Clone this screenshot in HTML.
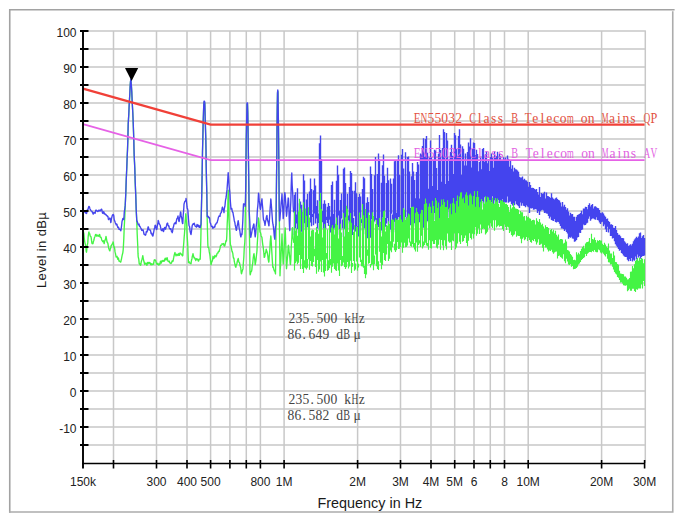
<!DOCTYPE html>
<html><head><meta charset="utf-8"><title>EMI scan</title><style>
html,body{margin:0;padding:0;background:#fff}
#w{position:relative;width:690px;height:525px;overflow:hidden;background:#fff;font-family:"Liberation Sans",sans-serif;color:#222}
.yl{position:absolute;right:613.5px;font-size:12px;line-height:12px;text-align:right;white-space:nowrap}
.xl{position:absolute;top:475.5px;font-size:12px;line-height:12px;width:60px;margin-left:-30px;text-align:center;white-space:nowrap}
.t{position:absolute;font-size:14.4px;line-height:16px;white-space:nowrap;color:#1a1a1a}
.m{position:absolute;font-family:"Liberation Serif",serif;font-size:13.6px;line-height:16px;height:16px;white-space:pre}
.c{display:inline-block;width:6.97px;text-align:center;vertical-align:top}
.c i{font-style:normal;display:inline-block;transform-origin:50% 50%;margin:0 -4px}

</style></head><body><div id="w">
<svg width="690" height="525" viewBox="0 0 690 525" style="position:absolute;left:0;top:0">
<path d="M9.75,512.7 V9.75 H674.6" fill="none" stroke="#a2a2a2" stroke-width="1.6"/>
<path d="M9,511.95 H672.75 V11.3" fill="none" stroke="#acacac" stroke-width="1.6"/>
<path d="M113.5,31 V463 M156.5,31 V463 M187.0,31 V463 M210.6,31 V463 M229.9,31 V463 M246.3,31 V463 M260.4,31 V463 M284.1,31 V463 M357.6,31 V463 M400.5,31 V463 M431.0,31 V463 M454.7,31 V463 M474.0,31 V463 M490.3,31 V463 M504.5,31 V463 M528.2,31 V463 M601.6,31 V463 M645.3,31 V463 M83,445.0 H645.9 M83,427.0 H645.9 M83,409.0 H645.9 M83,391.0 H645.9 M83,373.0 H645.9 M83,355.0 H645.9 M83,337.0 H645.9 M83,319.0 H645.9 M83,301.0 H645.9 M83,283.0 H645.9 M83,265.0 H645.9 M83,247.0 H645.9 M83,229.0 H645.9 M83,211.0 H645.9 M83,193.0 H645.9 M83,175.0 H645.9 M83,157.0 H645.9 M83,139.0 H645.9 M83,121.0 H645.9 M83,103.0 H645.9 M83,85.0 H645.9 M83,67.0 H645.9 M83,49.0 H645.9 M83,31.0 H645.9" stroke="#c8c8c8" stroke-width="1.5" fill="none"/>
<path d="M83.0,228.2 L83.2,230.3 L83.5,232.1 L83.8,233.3 L84.0,235.2 L84.2,237.8 L84.5,240.1 L84.8,242.1 L85.0,243.1 L85.2,243.7 L85.5,245.2 L85.8,247.0 L86.0,248.9 L86.2,251.3 L86.5,252.2 L86.8,250.0 L87.0,247.1 L87.2,245.2 L87.5,244.3 L87.8,242.4 L88.0,239.3 L88.2,236.3 L88.5,234.0 L88.8,232.2 L89.0,232.0 L89.2,233.4 L89.5,233.7 L89.8,233.9 L90.0,235.1 L90.2,236.1 L90.5,236.2 L90.8,236.5 L91.0,236.9 L91.2,237.9 L91.5,240.1 L91.8,242.4 L92.0,243.5 L92.2,243.2 L92.5,243.0 L92.8,243.7 L93.0,243.6 L93.2,242.2 L93.5,241.2 L93.8,240.5 L94.0,239.8 L94.2,238.6 L94.5,237.4 L94.8,236.9 L95.0,236.5 L95.2,235.6 L95.5,234.7 L95.8,234.3 L96.0,234.3 L96.2,234.8 L96.5,235.7 L96.8,236.2 L97.0,236.0 L97.2,235.9 L97.5,235.5 L97.8,235.0 L98.0,235.5 L98.2,236.0 L98.5,236.1 L98.8,236.3 L99.0,236.2 L99.2,235.3 L99.5,234.5 L99.8,234.7 L100.0,236.2 L100.2,237.2 L100.5,237.0 L100.8,237.0 L101.0,237.4 L101.2,237.8 L101.5,238.9 L101.8,240.0 L102.0,240.5 L102.2,240.7 L102.5,241.2 L102.8,241.7 L103.0,241.5 L103.2,241.0 L103.5,240.8 L103.8,241.5 L104.0,243.2 L104.2,243.6 L104.5,241.8 L104.8,240.8 L105.0,240.6 L105.2,240.1 L105.5,238.9 L105.8,237.6 L106.0,236.4 L106.2,237.3 L106.5,238.9 L106.8,240.5 L107.0,241.8 L107.2,242.4 L107.5,242.7 L107.8,243.2 L108.0,244.2 L108.2,245.3 L108.5,247.1 L108.8,248.6 L109.0,248.9 L109.2,249.8 L109.5,250.4 L109.8,250.9 L110.0,250.5 L110.2,249.1 L110.5,248.2 L110.8,247.9 L111.0,246.5 L111.2,245.5 L111.5,245.6 L111.8,244.9 L112.0,244.2 L112.2,244.0 L112.5,243.8 L112.8,243.3 L113.0,242.0 L113.2,242.1 L113.5,244.2 L113.8,246.5 L114.0,247.4 L114.2,246.8 L114.5,247.5 L114.8,249.7 L115.0,251.4 L115.2,252.4 L115.5,253.7 L115.8,255.4 L116.0,256.3 L116.2,257.0 L116.5,256.8 L116.8,256.4 L117.0,256.2 L117.2,256.9 L117.5,258.2 L117.8,259.2 L118.0,258.9 L118.2,258.0 L118.5,258.4 L118.8,260.1 L119.0,261.0 L119.2,260.8 L119.5,261.0 L119.8,261.5 L120.0,261.6 L120.2,261.6 L120.5,262.0 L120.8,262.1 L121.0,261.0 L121.2,260.0 L121.5,258.8 L121.8,257.2 L122.0,256.1 L122.2,255.1 L122.5,254.0 L122.8,252.8 L123.0,251.3 L123.2,249.7 L123.5,244.6 L123.8,239.0 L124.0,233.4 L124.2,227.8 L124.5,222.4 L124.8,216.9 L125.0,211.5 L125.2,206.1 L125.5,199.8 L125.8,193.5 L126.0,187.1 L126.2,180.7 L126.5,174.2 L126.8,167.8 L127.0,162.1 L127.2,156.3 L127.5,150.3 L127.8,141.6 L128.0,133.0 L128.2,124.3 L128.5,119.3 L128.8,114.4 L129.0,109.5 L129.2,104.6 L129.5,99.6 L129.8,94.6 L130.0,89.9 L130.2,85.3 L130.5,81.9 L130.8,79.3 L131.0,80.2 L131.2,83.6 L131.5,87.6 L131.8,92.4 L132.0,97.4 L132.2,102.5 L132.5,107.6 L132.8,112.7 L133.0,117.8 L133.2,122.9 L133.5,131.1 L133.8,140.2 L134.0,149.4 L134.2,156.1 L134.5,162.3 L134.8,168.5 L135.0,175.5 L135.2,182.4 L135.5,189.4 L135.8,196.4 L136.0,203.5 L136.2,209.8 L136.5,215.8 L136.8,221.9 L137.0,228.0 L137.2,234.3 L137.5,240.7 L137.8,247.0 L138.0,253.4 L138.2,256.8 L138.5,258.0 L138.8,259.3 L139.0,261.4 L139.2,263.7 L139.5,264.0 L139.8,263.7 L140.0,264.2 L140.2,264.9 L140.5,265.2 L140.8,265.0 L141.0,263.3 L141.2,262.2 L141.5,261.0 L141.8,259.9 L142.0,259.3 L142.2,258.6 L142.5,257.0 L142.8,255.6 L143.0,256.9 L143.2,258.3 L143.5,259.7 L143.8,261.0 L144.0,261.8 L144.2,262.5 L144.5,263.8 L144.8,264.5 L145.0,263.6 L145.2,263.1 L145.5,263.6 L145.8,263.7 L146.0,263.1 L146.2,263.5 L146.5,264.6 L146.8,265.2 L147.0,265.3 L147.2,264.4 L147.5,262.6 L147.8,262.5 L148.0,263.5 L148.2,263.5 L148.5,263.1 L148.8,262.7 L149.0,262.3 L149.2,262.5 L149.5,263.2 L149.8,263.4 L150.0,262.8 L150.2,262.9 L150.5,264.2 L150.8,264.8 L151.0,264.8 L151.2,264.8 L151.5,264.3 L151.8,263.6 L152.0,263.6 L152.2,264.2 L152.5,264.6 L152.8,264.6 L153.0,264.5 L153.2,264.3 L153.5,264.1 L153.8,263.0 L154.0,261.3 L154.2,260.0 L154.5,260.0 L154.8,260.2 L155.0,259.8 L155.2,260.1 L155.5,260.4 L155.8,261.0 L156.0,262.0 L156.2,263.0 L156.5,263.4 L156.8,263.9 L157.0,264.3 L157.2,264.0 L157.5,263.6 L157.8,263.3 L158.0,263.6 L158.2,264.5 L158.5,264.7 L158.8,265.0 L159.0,264.9 L159.2,264.2 L159.5,264.3 L159.8,264.5 L160.0,263.5 L160.2,262.1 L160.5,261.2 L160.8,261.3 L161.0,262.4 L161.2,263.1 L161.5,262.5 L161.8,261.4 L162.0,260.7 L162.2,260.5 L162.5,260.8 L162.8,261.1 L163.0,261.4 L163.2,261.1 L163.5,260.4 L163.8,260.4 L164.0,261.2 L164.2,261.2 L164.5,260.4 L164.8,259.6 L165.0,258.7 L165.2,258.1 L165.5,258.9 L165.8,259.9 L166.0,260.0 L166.2,259.8 L166.5,259.2 L166.8,258.2 L167.0,257.6 L167.2,257.9 L167.5,259.3 L167.8,260.5 L168.0,261.0 L168.2,261.5 L168.5,261.5 L168.8,261.4 L169.0,261.1 L169.2,261.0 L169.5,262.1 L169.8,262.9 L170.0,262.7 L170.2,262.7 L170.5,263.3 L170.8,263.5 L171.0,263.3 L171.2,263.2 L171.5,263.1 L171.8,262.1 L172.0,261.2 L172.2,260.9 L172.5,260.8 L172.8,261.0 L173.0,261.3 L173.2,260.3 L173.5,258.6 L173.8,257.2 L174.0,256.1 L174.2,255.2 L174.5,254.1 L174.8,252.8 L175.0,252.5 L175.2,253.8 L175.5,254.4 L175.8,255.0 L176.0,255.8 L176.2,255.5 L176.5,254.6 L176.8,254.3 L177.0,254.2 L177.2,254.2 L177.5,254.9 L177.8,255.6 L178.0,255.5 L178.2,255.0 L178.5,254.1 L178.8,253.5 L179.0,253.9 L179.2,254.9 L179.5,255.2 L179.8,253.9 L180.0,253.0 L180.2,253.0 L180.5,253.2 L180.8,253.5 L181.0,253.7 L181.2,254.1 L181.5,254.8 L181.8,254.9 L182.0,254.6 L182.2,255.1 L182.5,255.9 L182.8,255.4 L183.0,252.0 L183.2,249.1 L183.5,246.2 L183.8,242.5 L184.0,239.7 L184.2,236.8 L184.5,233.5 L184.8,229.1 L185.0,224.4 L185.2,220.7 L185.5,217.8 L185.8,213.8 L186.0,215.8 L186.2,219.1 L186.5,222.0 L186.8,226.4 L187.0,231.9 L187.2,236.9 L187.5,240.8 L187.8,246.3 L188.0,252.2 L188.2,257.8 L188.5,262.7 L188.8,262.0 L189.0,261.6 L189.2,261.9 L189.5,262.6 L189.8,263.0 L190.0,263.2 L190.2,263.2 L190.5,263.3 L190.8,263.5 L191.0,263.8 L191.2,262.1 L191.5,260.3 L191.8,259.2 L192.0,258.4 L192.2,257.0 L192.5,255.6 L192.8,254.6 L193.0,253.6 L193.2,254.6 L193.5,255.8 L193.8,257.0 L194.0,257.8 L194.2,257.8 L194.5,257.7 L194.8,258.1 L195.0,259.0 L195.2,258.6 L195.5,259.3 L195.8,260.5 L196.0,260.0 L196.2,258.9 L196.5,258.8 L196.8,258.7 L197.0,258.9 L197.2,259.5 L197.5,259.4 L197.8,259.2 L198.0,259.7 L198.2,260.9 L198.5,261.1 L198.8,260.6 L199.0,259.9 L199.2,259.3 L199.5,259.1 L199.8,259.1 L200.0,259.1 L200.2,259.2 L200.5,251.3 L200.8,240.7 L201.0,230.2 L201.2,218.1 L201.5,205.7 L201.8,193.3 L202.0,182.0 L202.2,169.3 L202.5,152.7 L202.8,140.9 L203.0,131.5 L203.2,122.1 L203.5,112.8 L203.8,105.2 L204.0,102.3 L204.2,102.3 L204.5,102.3 L204.8,103.5 L205.0,110.6 L205.2,119.9 L205.5,129.6 L205.8,139.2 L206.0,150.2 L206.2,167.4 L206.5,181.2 L206.8,193.0 L207.0,206.0 L207.2,219.1 L207.5,231.6 L207.8,242.9 L208.0,247.4 L208.2,247.1 L208.5,247.3 L208.8,247.9 L209.0,249.5 L209.2,251.4 L209.5,253.1 L209.8,254.4 L210.0,255.8 L210.2,257.8 L210.5,260.1 L210.8,262.8 L211.0,264.8 L211.2,264.2 L211.5,262.8 L211.8,261.9 L212.0,261.5 L212.2,261.1 L212.5,260.1 L212.8,257.8 L213.0,256.3 L213.2,257.0 L213.5,258.4 L213.8,258.5 L214.0,258.1 L214.2,257.9 L214.5,257.1 L214.8,255.8 L215.0,255.4 L215.2,256.1 L215.5,256.4 L215.8,256.9 L216.0,256.8 L216.2,256.0 L216.5,255.7 L216.8,254.8 L217.0,253.7 L217.2,253.3 L217.5,253.1 L217.8,252.8 L218.0,253.0 L218.2,252.4 L218.5,251.3 L218.8,251.2 L219.0,251.6 L219.2,251.4 L219.5,250.2 L219.8,248.9 L220.0,248.4 L220.2,247.1 L220.5,245.6 L220.8,245.2 L221.0,245.4 L221.2,245.3 L221.5,245.2 L221.8,244.4 L222.0,243.7 L222.2,244.0 L222.5,244.1 L222.8,244.2 L223.0,244.1 L223.2,243.7 L223.5,243.5 L223.8,244.5 L224.0,245.6 L224.2,245.9 L224.5,246.1 L224.8,245.8 L225.0,245.1 L225.2,244.0 L225.5,242.8 L225.8,241.5 L226.0,240.7 L226.2,240.6 L226.5,241.0 L226.8,236.0 L227.0,230.1 L227.2,223.7 L227.5,218.3 L227.8,208.2 L228.0,197.3 L228.2,190.1 L228.5,198.8 L228.8,208.7 L229.0,218.6 L229.2,223.3 L229.5,228.0 L229.8,232.6 L230.0,237.0 L230.2,241.8 L230.5,245.0 L230.8,245.5 L231.0,246.2 L231.2,247.3 L231.5,248.7 L231.8,250.3 L232.0,251.3 L232.2,251.9 L232.5,252.4 L232.8,253.4 L233.0,255.0 L233.2,256.8 L233.5,258.0 L233.8,258.0 L234.0,258.8 L234.2,260.8 L234.5,262.4 L234.8,263.7 L235.0,264.9 L235.2,265.6 L235.5,266.7 L235.8,267.3 L236.0,266.5 L236.2,265.3 L236.5,264.3 L236.8,264.1 L237.0,263.2 L237.2,261.8 L237.5,260.8 L237.8,260.1 L238.0,259.1 L238.2,258.5 L238.5,260.0 L238.8,261.7 L239.0,262.3 L239.2,262.2 L239.5,262.6 L239.8,264.1 L240.0,265.6 L240.2,266.1 L240.5,267.0 L240.8,268.2 L241.0,270.4 L241.2,272.6 L241.5,273.7 L241.8,272.7 L242.0,271.9 L242.2,271.2 L242.5,270.3 L242.8,269.6 L243.0,268.9 L243.2,265.0 L243.5,261.3 L243.8,257.8 L244.0,253.6 L244.2,249.1 L244.5,245.5 L244.8,242.3 L245.0,237.3 L245.2,219.8 L245.5,201.0 L245.8,183.4 L246.0,162.1 L246.2,142.2 L246.5,128.1 L246.8,114.0 L247.0,104.1 L247.2,104.1 L247.5,104.1 L247.8,113.0 L248.0,127.2 L248.2,141.5 L248.5,161.4 L248.8,183.4 L249.0,201.6 L249.2,221.1 L249.5,239.0 L249.8,255.9 L250.0,273.4 L250.2,274.8 L250.5,273.7 L250.8,272.4 L251.0,271.4 L251.2,271.5 L251.5,271.4 L251.8,270.2 L252.0,268.0 L252.2,265.9 L252.5,264.6 L252.8,262.6 L253.0,260.3 L253.2,258.2 L253.5,256.1 L253.8,254.1 L254.0,253.7 L254.2,255.6 L254.5,257.6 L254.8,260.0 L255.0,262.8 L255.2,264.7 L255.5,263.0 L255.8,261.3 L256.0,260.0 L256.2,257.9 L256.5,255.0 L256.8,252.5 L257.0,250.4 L257.2,245.1 L257.5,240.3 L257.8,235.6 L258.0,229.7 L258.2,223.6 L258.5,218.0 L258.8,220.2 L259.0,222.4 L259.2,224.3 L259.5,226.6 L259.8,229.5 L260.0,232.0 L260.2,232.2 L260.5,232.6 L260.8,233.8 L261.0,235.2 L261.2,236.2 L261.5,236.5 L261.8,237.0 L262.0,238.0 L262.2,239.9 L262.5,242.5 L262.8,244.8 L263.0,245.8 L263.2,247.2 L263.5,249.8 L263.8,252.4 L264.0,255.0 L264.2,257.4 L264.5,257.4 L264.8,256.5 L265.0,254.9 L265.2,253.5 L265.5,253.1 L265.8,252.1 L266.0,250.5 L266.2,249.2 L266.5,250.1 L266.8,251.2 L267.0,251.5 L267.2,252.5 L267.5,254.0 L267.8,255.8 L268.0,257.8 L268.2,259.4 L268.5,261.0 L268.8,262.2 L269.0,260.8 L269.2,256.9 L269.5,253.7 L269.8,250.4 L270.0,246.2 L270.2,242.0 L270.5,239.0 L270.8,235.9 L271.0,237.5 L271.2,241.5 L271.5,246.8 L271.8,251.4 L272.0,254.9 L272.2,258.5 L272.5,263.1 L272.8,267.2 L273.0,267.0 L273.2,266.8 L273.5,268.2 L273.8,269.2 L274.0,269.9 L274.2,270.6 L274.5,271.1 L274.8,271.1 L275.0,271.2 L275.2,272.6 L275.5,273.9 L275.8,251.6 L276.0,229.7 L276.2,206.8 L276.5,181.6 L276.8,157.1 L277.0,129.0 L277.2,110.0 L277.5,93.4 L277.8,91.1 L278.0,93.0 L278.2,109.6 L278.5,128.8 L278.8,157.4 L279.0,182.4 L279.2,208.2 L279.5,231.6 L279.8,254.4 L280.0,275.8 L280.2,270.2 L280.5,265.9 L280.8,261.6 L281.0,256.4 L281.2,251.2 L281.5,245.8 L281.8,239.9 L282.0,233.9 L282.2,240.6 L282.5,248.3 L282.8,255.3 L283.0,260.8 L283.2,264.0 L283.5,259.7 L283.8,256.2 L284.0,251.7 L284.2,246.6 L284.5,241.4 L284.8,236.3 L285.0,231.1 L285.2,228.0 L285.5,235.8 L285.8,245.1 L286.0,253.7 L286.2,261.1 L286.5,268.7 L286.8,265.6 L287.0,263.2 L287.2,260.4 L287.5,257.1 L287.8,253.5 L288.0,249.5 L288.2,245.8 L288.5,245.3 L288.8,247.9 L289.0,250.1 L289.2,252.7 L289.5,255.3 L289.8,257.6 L290.0,260.4 L290.2,263.9 L290.5,264.5 L290.8,259.8 L291.0,253.8 L291.2,248.0 L291.5,243.5 L291.8,239.3 L292.0,234.0 L292.2,228.6 L292.5,227.6 L292.8,232.1 L293.0,235.7 L293.2,238.3 L293.5,240.0 L293.8,242.9" stroke="#44f444" stroke-width="1.35" fill="none" stroke-linejoin="round" />
<path d="M83.0,208.2 L83.2,209.4 L83.5,211.1 L83.8,212.0 L84.0,211.6 L84.2,211.2 L84.5,211.1 L84.8,211.0 L85.0,211.5 L85.2,212.5 L85.5,213.0 L85.8,212.6 L86.0,212.1 L86.2,212.7 L86.5,213.6 L86.8,212.9 L87.0,211.0 L87.2,209.9 L87.5,210.1 L87.8,210.0 L88.0,209.2 L88.2,208.5 L88.5,207.5 L88.8,206.5 L89.0,206.4 L89.2,206.4 L89.5,207.1 L89.8,208.1 L90.0,208.9 L90.2,209.4 L90.5,209.8 L90.8,210.2 L91.0,210.6 L91.2,210.9 L91.5,211.1 L91.8,211.2 L92.0,211.2 L92.2,211.8 L92.5,212.7 L92.8,213.1 L93.0,213.7 L93.2,214.1 L93.5,213.6 L93.8,212.6 L94.0,212.4 L94.2,212.7 L94.5,212.6 L94.8,212.8 L95.0,213.4 L95.2,212.9 L95.5,211.4 L95.8,210.3 L96.0,210.0 L96.2,210.2 L96.5,210.5 L96.8,210.5 L97.0,210.6 L97.2,211.3 L97.5,211.4 L97.8,211.5 L98.0,211.5 L98.2,211.1 L98.5,211.0 L98.8,210.4 L99.0,210.0 L99.2,210.7 L99.5,210.8 L99.8,210.5 L100.0,211.1 L100.2,211.1 L100.5,210.4 L100.8,210.0 L101.0,209.8 L101.2,209.5 L101.5,209.1 L101.8,209.5 L102.0,210.6 L102.2,211.9 L102.5,213.0 L102.8,213.3 L103.0,213.0 L103.2,212.8 L103.5,211.8 L103.8,211.7 L104.0,213.0 L104.2,213.9 L104.5,213.7 L104.8,213.5 L105.0,214.0 L105.2,214.5 L105.5,214.5 L105.8,214.3 L106.0,214.3 L106.2,215.1 L106.5,215.4 L106.8,215.4 L107.0,215.8 L107.2,216.4 L107.5,216.3 L107.8,216.2 L108.0,216.8 L108.2,218.2 L108.5,219.5 L108.8,219.4 L109.0,218.8 L109.2,218.9 L109.5,218.7 L109.8,218.0 L110.0,218.1 L110.2,219.2 L110.5,220.6 L110.8,222.6 L111.0,222.1 L111.2,220.1 L111.5,218.5 L111.8,217.4 L112.0,216.6 L112.2,215.8 L112.5,215.1 L112.8,214.9 L113.0,214.6 L113.2,214.5 L113.5,214.8 L113.8,215.9 L114.0,218.0 L114.2,219.6 L114.5,220.7 L114.8,221.2 L115.0,221.7 L115.2,222.5 L115.5,223.4 L115.8,223.7 L116.0,224.1 L116.2,224.8 L116.5,224.7 L116.8,224.0 L117.0,224.4 L117.2,225.6 L117.5,226.6 L117.8,227.4 L118.0,227.6 L118.2,227.1 L118.5,227.2 L118.8,228.2 L119.0,229.3 L119.2,229.4 L119.5,229.0 L119.8,229.2 L120.0,229.7 L120.2,229.7 L120.5,230.0 L120.8,230.8 L121.0,229.8 L121.2,228.5 L121.5,226.4 L121.8,223.7 L122.0,221.7 L122.2,220.8 L122.5,220.1 L122.8,218.7 L123.0,218.4 L123.2,218.7 L123.5,219.2 L123.8,219.5 L124.0,216.7 L124.2,213.2 L124.5,210.6 L124.8,208.8 L125.0,207.2 L125.2,205.4 L125.5,199.6 L125.8,193.2 L126.0,186.8 L126.2,180.4 L126.5,174.0 L126.8,167.5 L127.0,161.8 L127.2,156.1 L127.5,150.0 L127.8,141.4 L128.0,132.7 L128.2,124.1 L128.5,119.0 L128.8,114.2 L129.0,109.3 L129.2,104.4 L129.5,99.4 L129.8,94.3 L130.0,89.6 L130.2,85.0 L130.5,81.6 L130.8,79.1 L131.0,79.9 L131.2,83.4 L131.5,87.3 L131.8,92.1 L132.0,97.1 L132.2,102.3 L132.5,107.4 L132.8,112.5 L133.0,117.5 L133.2,122.6 L133.5,130.9 L133.8,140.0 L134.0,149.1 L134.2,155.9 L134.5,162.0 L134.8,168.3 L135.0,175.2 L135.2,182.2 L135.5,189.2 L135.8,196.2 L136.0,203.2 L136.2,209.5 L136.5,215.6 L136.8,221.1 L137.0,220.9 L137.2,221.3 L137.5,222.3 L137.8,223.4 L138.0,224.0 L138.2,224.7 L138.5,224.7 L138.8,224.1 L139.0,223.9 L139.2,224.8 L139.5,226.3 L139.8,226.4 L140.0,226.2 L140.2,226.8 L140.5,227.6 L140.8,228.2 L141.0,228.2 L141.2,228.7 L141.5,229.8 L141.8,230.4 L142.0,230.5 L142.2,230.4 L142.5,230.0 L142.8,229.9 L143.0,229.8 L143.2,230.4 L143.5,231.6 L143.8,233.0 L144.0,234.0 L144.2,234.5 L144.5,234.5 L144.8,234.5 L145.0,234.9 L145.2,235.0 L145.5,235.2 L145.8,234.7 L146.0,233.5 L146.2,231.9 L146.5,231.4 L146.8,232.0 L147.0,232.0 L147.2,231.3 L147.5,230.0 L147.8,228.4 L148.0,227.4 L148.2,226.8 L148.5,227.5 L148.8,228.9 L149.0,229.8 L149.2,229.8 L149.5,229.8 L149.8,230.1 L150.0,230.1 L150.2,230.0 L150.5,230.5 L150.8,231.8 L151.0,233.3 L151.2,233.7 L151.5,233.0 L151.8,233.3 L152.0,234.4 L152.2,235.2 L152.5,235.7 L152.8,236.1 L153.0,236.0 L153.2,234.7 L153.5,233.2 L153.8,231.6 L154.0,230.4 L154.2,229.2 L154.5,228.2 L154.8,227.2 L155.0,225.7 L155.2,225.1 L155.5,225.8 L155.8,226.7 L156.0,227.8 L156.2,228.5 L156.5,229.5 L156.8,229.4 L157.0,228.4 L157.2,226.2 L157.5,225.1 L157.8,224.0 L158.0,222.2 L158.2,220.5 L158.5,221.0 L158.8,222.3 L159.0,223.3 L159.2,223.6 L159.5,224.2 L159.8,224.6 L160.0,224.6 L160.2,225.3 L160.5,226.8 L160.8,228.2 L161.0,229.3 L161.2,230.2 L161.5,230.5 L161.8,230.6 L162.0,230.5 L162.2,230.0 L162.5,229.3 L162.8,228.7 L163.0,229.5 L163.2,231.2 L163.5,231.5 L163.8,230.7 L164.0,229.6 L164.2,228.5 L164.5,227.8 L164.8,227.4 L165.0,227.4 L165.2,228.3 L165.5,229.2 L165.8,228.7 L166.0,227.7 L166.2,226.8 L166.5,225.7 L166.8,224.4 L167.0,223.7 L167.2,223.4 L167.5,223.1 L167.8,223.7 L168.0,224.9 L168.2,225.7 L168.5,226.1 L168.8,225.8 L169.0,226.2 L169.2,227.7 L169.5,228.5 L169.8,228.4 L170.0,228.9 L170.2,229.2 L170.5,228.8 L170.8,228.6 L171.0,229.0 L171.2,230.2 L171.5,231.5 L171.8,231.6 L172.0,231.7 L172.2,232.7 L172.5,231.8 L172.8,229.7 L173.0,228.1 L173.2,227.6 L173.5,226.8 L173.8,225.2 L174.0,224.3 L174.2,223.8 L174.5,223.3 L174.8,223.5 L175.0,223.5 L175.2,222.8 L175.5,222.5 L175.8,223.5 L176.0,223.8 L176.2,222.2 L176.5,220.3 L176.8,219.0 L177.0,218.4 L177.2,218.5 L177.5,217.9 L177.8,216.6 L178.0,216.0 L178.2,217.3 L178.5,219.4 L178.8,220.9 L179.0,221.5 L179.2,221.3 L179.5,219.0 L179.8,217.5 L180.0,216.3 L180.2,214.4 L180.5,212.0 L180.8,212.4 L181.0,214.4 L181.2,215.9 L181.5,217.3 L181.8,218.4 L182.0,219.9 L182.2,221.9 L182.5,223.5 L182.8,223.5 L183.0,219.2 L183.2,215.4 L183.5,212.0 L183.8,208.3 L184.0,204.2 L184.2,203.5 L184.5,202.4 L184.8,201.5 L185.0,201.1 L185.2,201.1 L185.5,200.9 L185.8,199.9 L186.0,198.5 L186.2,199.5 L186.5,202.1 L186.8,204.5 L187.0,206.7 L187.2,208.3 L187.5,208.6 L187.8,209.8 L188.0,212.1 L188.2,215.1 L188.5,219.3 L188.8,222.9 L189.0,225.4 L189.2,225.8 L189.5,226.3 L189.8,228.2 L190.0,230.6 L190.2,232.0 L190.5,232.8 L190.8,234.0 L191.0,234.6 L191.2,233.3 L191.5,231.2 L191.8,229.0 L192.0,227.1 L192.2,225.7 L192.5,224.8 L192.8,224.9 L193.0,224.0 L193.2,223.7 L193.5,223.9 L193.8,224.2 L194.0,223.6 L194.2,223.2 L194.5,223.9 L194.8,225.2 L195.0,225.9 L195.2,226.2 L195.5,226.3 L195.8,226.1 L196.0,226.4 L196.2,227.0 L196.5,227.0 L196.8,225.6 L197.0,224.5 L197.2,224.6 L197.5,225.3 L197.8,226.2 L198.0,226.5 L198.2,226.0 L198.5,225.1 L198.8,225.5 L199.0,226.8 L199.2,227.4 L199.5,226.7 L199.8,226.0 L200.0,226.9 L200.2,227.5 L200.5,226.1 L200.8,224.9 L201.0,224.2 L201.2,217.0 L201.5,204.7 L201.8,192.2 L202.0,180.9 L202.2,168.2 L202.5,151.7 L202.8,139.8 L203.0,130.5 L203.2,121.0 L203.5,111.7 L203.8,104.1 L204.0,101.2 L204.2,101.2 L204.5,101.2 L204.8,102.4 L205.0,109.5 L205.2,118.8 L205.5,128.5 L205.8,138.1 L206.0,149.2 L206.2,166.3 L206.5,180.1 L206.8,191.9 L207.0,204.9 L207.2,216.6 L207.5,216.8 L207.8,216.4 L208.0,216.2 L208.2,216.5 L208.5,217.1 L208.8,217.9 L209.0,217.8 L209.2,217.4 L209.5,217.7 L209.8,219.7 L210.0,221.9 L210.2,223.0 L210.5,223.2 L210.8,224.2 L211.0,225.2 L211.2,225.9 L211.5,226.6 L211.8,226.2 L212.0,226.1 L212.2,226.3 L212.5,227.3 L212.8,228.3 L213.0,228.3 L213.2,227.9 L213.5,227.6 L213.8,227.6 L214.0,227.4 L214.2,226.5 L214.5,226.5 L214.8,227.1 L215.0,226.4 L215.2,224.9 L215.5,224.2 L215.8,224.3 L216.0,224.0 L216.2,223.4 L216.5,223.0 L216.8,222.9 L217.0,222.9 L217.2,222.4 L217.5,221.2 L217.8,220.0 L218.0,219.5 L218.2,218.3 L218.5,217.1 L218.8,216.5 L219.0,216.0 L219.2,215.9 L219.5,215.8 L219.8,216.3 L220.0,216.4 L220.2,214.7 L220.5,213.2 L220.8,213.0 L221.0,212.9 L221.2,212.7 L221.5,211.8 L221.8,210.3 L222.0,209.0 L222.2,207.7 L222.5,207.1 L222.8,208.4 L223.0,209.5 L223.2,209.3 L223.5,209.5 L223.8,211.2 L224.0,212.6 L224.2,210.0 L224.5,207.7 L224.8,206.8 L225.0,205.5 L225.2,203.1 L225.5,200.3 L225.8,198.6 L226.0,198.3 L226.2,196.7 L226.5,193.7 L226.8,191.5 L227.0,189.9 L227.2,187.1 L227.5,182.7 L227.8,178.8 L228.0,175.0 L228.2,172.6 L228.5,176.6 L228.8,180.7 L229.0,184.8 L229.2,187.1 L229.5,189.8 L229.8,192.0 L230.0,195.0 L230.2,199.0 L230.5,203.0 L230.8,206.6 L231.0,209.1 L231.2,208.2 L231.5,208.1 L231.8,208.6 L232.0,209.7 L232.2,211.1 L232.5,212.0 L232.8,212.4 L233.0,212.6 L233.2,214.1 L233.5,216.0 L233.8,217.3 L234.0,218.5 L234.2,220.2 L234.5,221.6 L234.8,222.3 L235.0,223.4 L235.2,224.9 L235.5,226.4 L235.8,227.6 L236.0,228.6 L236.2,230.2 L236.5,230.2 L236.8,228.5 L237.0,226.7 L237.2,225.7 L237.5,224.8 L237.8,223.1 L238.0,221.5 L238.2,220.7 L238.5,222.5 L238.8,224.8 L239.0,226.8 L239.2,228.4 L239.5,229.5 L239.8,230.5 L240.0,232.0 L240.2,233.8 L240.5,235.6 L240.8,236.9 L241.0,236.7 L241.2,234.5 L241.5,233.9 L241.8,234.7 L242.0,234.0 L242.2,231.6 L242.5,226.4 L242.8,221.0 L243.0,215.7 L243.2,210.0 L243.5,204.0 L243.8,203.9 L244.0,203.9 L244.2,204.0 L244.5,204.4 L244.8,204.6 L245.0,205.1 L245.2,206.3 L245.5,200.0 L245.8,182.3 L246.0,161.0 L246.2,141.1 L246.5,127.0 L246.8,112.9 L247.0,103.0 L247.2,103.0 L247.5,103.0 L247.8,111.9 L248.0,126.1 L248.2,140.4 L248.5,160.4 L248.8,182.3 L249.0,200.5 L249.2,210.7 L249.5,216.3 L249.8,221.5 L250.0,225.7 L250.2,230.0 L250.5,235.4 L250.8,237.3 L251.0,236.3 L251.2,235.1 L251.5,233.8 L251.8,232.3 L252.0,231.0 L252.2,229.9 L252.5,228.9 L252.8,228.1 L253.0,227.1 L253.2,226.0 L253.5,224.9 L253.8,224.0 L254.0,224.7 L254.2,227.4 L254.5,229.8 L254.8,232.5 L255.0,235.4 L255.2,236.8 L255.5,234.9 L255.8,232.3 L256.0,229.2 L256.2,226.3 L256.5,224.1 L256.8,222.0 L257.0,217.9 L257.2,212.9 L257.5,208.6 L257.8,206.1 L258.0,203.6 L258.2,199.1 L258.5,193.2 L258.8,194.4 L259.0,197.6 L259.2,200.4 L259.5,202.2 L259.8,204.4 L260.0,206.8 L260.2,208.8 L260.5,209.5 L260.8,207.4 L261.0,205.4 L261.2,204.2 L261.5,202.1 L261.8,199.8 L262.0,198.8 L262.2,202.8 L262.5,205.9 L262.8,209.0 L263.0,212.9 L263.2,216.7 L263.5,219.9 L263.8,220.2 L264.0,220.2 L264.2,221.2 L264.5,222.6 L264.8,223.9 L265.0,225.4 L265.2,224.1 L265.5,221.9 L265.8,220.6 L266.0,219.9 L266.2,218.2 L266.5,216.5 L266.8,215.7 L267.0,215.5 L267.2,217.9 L267.5,219.8 L267.8,221.1 L268.0,221.5 L268.2,222.4 L268.5,223.8 L268.8,225.7 L269.0,225.7 L269.2,222.6 L269.5,218.6 L269.8,214.1 L270.0,210.3 L270.2,207.3 L270.5,203.7 L270.8,198.9 L271.0,200.1 L271.2,203.3 L271.5,207.0 L271.8,210.9 L272.0,213.8 L272.2,216.8 L272.5,221.1 L272.8,223.3 L273.0,224.5 L273.2,225.5 L273.5,227.8 L273.8,230.5 L274.0,232.8 L274.2,235.3 L274.5,237.7 L274.8,239.2 L275.0,235.4 L275.2,230.6 L275.5,226.2 L275.8,225.4 L276.0,224.2 L276.2,205.7 L276.5,180.6 L276.8,156.0 L277.0,127.9 L277.2,108.9 L277.5,92.3 L277.8,90.0 L278.0,91.9 L278.2,108.5 L278.5,127.7 L278.8,156.3 L279.0,181.3 L279.2,207.1 L279.5,220.9 L279.8,220.1 L280.0,218.5 L280.2,215.1 L280.5,211.9 L280.8,208.2 L281.0,205.0 L281.2,202.4 L281.5,199.7 L281.8,196.8 L282.0,193.8 L282.2,198.5 L282.5,204.2 L282.8,209.8 L283.0,214.2 L283.2,218.6 L283.5,215.6 L283.8,210.7 L284.0,206.1 L284.2,201.2 L284.5,196.9 L284.8,192.6 L285.0,193.6 L285.2,195.6 L285.5,199.3 L285.8,203.7 L286.0,207.4 L286.2,211.3 L286.5,216.2 L286.8,214.0 L287.0,211.1 L287.2,208.7 L287.5,206.2 L287.8,203.3 L288.0,200.6 L288.2,197.9 L288.5,198.6 L288.8,205.1 L289.0,211.8 L289.2,219.4 L289.5,226.9 L289.8,230.6 L290.0,222.6 L290.2,215.1 L290.5,208.5 L290.8,202.1 L291.0,194.7 L291.2,186.1 L291.5,177.5 L291.8,173.0 L292.0,179.7 L292.2,185.2 L292.5,190.0 L292.8,195.1 L293.0,200.6 L293.2,206.6 L293.5,211.8 L293.8,210.7" stroke="#4444ee" stroke-width="1.35" fill="none" stroke-linejoin="round" />
<path d="M294.5,234.9V194.8 M295.5,228.2V192.2 M296.5,223.4V214.6 M297.5,229.1V188.3 M298.5,233.0V214.5 M299.5,227.5V203.3 M300.5,216.9V201.5 M301.5,231.8V204.8 M302.5,232.9V212.6 M303.5,227.4V174.3 M304.5,223.2V180.5 M305.5,230.2V215.8 M306.5,219.1V199.4 M307.5,227.3V193.7 M308.5,227.7V219.3 M309.5,215.0V191.4 M310.5,222.4V178.6 M311.5,226.2V189.0 M312.5,217.0V214.1 M313.5,225.3V190.2 M314.5,213.6V178.6 M315.5,223.6V185.5 M316.5,218.5V205.9 M317.5,228.6V200.3 M318.5,223.0V213.4 M319.5,231.2V143.3 M320.5,222.9V135.4 M321.5,222.2V159.1 M322.5,222.3V210.9 M323.5,228.4V203.8 M324.5,231.3V200.2 M325.5,229.1V203.7 M326.5,219.9V216.8 M327.5,223.0V206.7 M328.5,225.9V203.1 M329.5,219.8V206.1 M330.5,232.6V216.5 M331.5,232.3V185.0 M332.5,228.7V181.5 M333.5,236.5V213.9 M334.5,227.7V199.7 M335.5,229.6V224.6 M336.5,233.5V180.8 M337.5,227.9V165.6 M338.5,215.4V174.8 M339.5,234.8V210.8 M340.5,230.6V200.0 M341.5,218.4V193.4 M342.5,228.3V219.4 M343.5,236.9V168.8 M344.5,228.7V167.4 M345.5,219.1V183.0 M346.5,225.5V221.6 M347.5,229.1V193.7 M348.5,220.2V215.5 M349.5,223.4V187.0 M350.5,218.3V171.0 M351.5,231.2V173.0 M352.5,234.9V190.7 M353.5,229.4V218.0 M354.5,216.2V190.7 M355.5,231.6V182.2 M356.5,226.4V193.2 M357.5,229.7V226.1 M358.5,236.6V196.9 M359.5,217.4V193.8 M360.5,225.9V196.6 M361.5,223.1V219.3 M362.5,230.8V188.9 M363.5,234.3V176.8 M364.5,228.3V178.3 M365.5,220.2V211.6 M366.5,236.8V202.7 M367.5,238.3V197.2 M368.5,213.1V202.1 M369.5,230.8V218.1 M370.5,237.7V166.4 M371.5,219.3V174.1 M372.5,220.2V189.1 M373.5,223.6V219.8 M374.5,221.6V175.3 M375.5,219.8V157.0 M376.5,228.3V218.3 M377.5,230.2V173.9 M378.5,227.1V153.4 M379.5,220.2V159.3 M380.5,232.9V227.2 M381.5,230.5V182.8 M382.5,217.4V165.3 M383.5,224.2V154.5 M384.5,228.0V175.8 M385.5,226.7V218.1 M386.5,223.4V182.9 M387.5,217.9V167.8 M388.5,230.5V180.2 M389.5,232.2V226.7 M390.5,229.6V178.6 M391.5,213.8V183.8 M392.5,225.0V214.5 M393.5,227.8V178.5 M394.5,221.7V161.3 M395.5,232.3V160.5 M396.5,235.4V212.7 M397.5,227.0V161.1 M398.5,216.9V155.2 M399.5,226.0V174.7 M400.5,230.3V215.2 M401.5,227.9V154.8 M402.5,224.0V149.1 M403.5,229.4V168.6 M404.5,224.4V217.1 M405.5,217.1V152.3 M406.5,222.4V217.2 M407.5,229.2V156.9 M408.5,230.8V156.6 M409.5,219.6V171.4 M410.5,225.2V208.1 M411.5,224.7V176.3 M412.5,222.8V163.1 M413.5,216.1V171.5 M414.5,223.3V179.9 M415.5,226.6V198.2 M416.5,223.3V172.1 M417.5,218.6V162.0 M418.5,219.2V164.5 M419.5,222.2V198.4 M420.5,220.0V153.4 M421.5,212.9V154.5 M422.5,223.0V146.1 M423.5,227.8V138.3 M424.5,220.5V157.1 M425.5,222.4V139.1 M426.5,222.6V136.1 M427.5,221.2V152.8 M428.5,216.1V188.8 M429.5,221.5V156.9 M430.5,226.4V140.4 M431.5,219.8V157.0 M432.5,220.7V186.1 M433.5,219.8V160.4 M434.5,212.9V149.8 M435.5,220.7V150.6 M436.5,224.4V168.0 M437.5,223.9V190.0 M438.5,218.9V153.8 M439.5,221.1V135.0 M440.5,219.1V149.9 M441.5,216.5V181.8 M442.5,217.2V148.0 M443.5,217.1V129.3 M444.5,218.8V132.1 M445.5,215.5V184.0 M446.5,216.6V132.9 M447.5,217.2V140.4 M448.5,209.6V181.1 M449.5,217.6V158.8 M450.5,221.1V152.0 M451.5,215.4V144.8 M452.5,206.6V155.8 M453.5,216.4V174.0 M454.5,215.3V132.9 M455.5,214.0V135.3 M456.5,216.6V149.1 M457.5,215.5V156.0 M458.5,207.1V136.1 M459.5,213.2V129.3 M460.5,216.0V144.6 M461.5,213.8V174.8 M462.5,212.2V146.2 M463.5,211.0V148.8 M464.5,212.1V165.4 M465.5,212.9V153.4 M466.5,209.0V165.5 M467.5,206.1V152.1 M468.5,207.4V142.6 M469.5,210.5V146.6 M470.5,205.4V138.3 M471.5,208.6V167.5 M472.5,212.3V149.0 M473.5,207.8V142.6 M474.5,200.3V143.1 M475.5,209.2V155.1 M476.5,201.9V149.8 M477.5,208.2V154.1 M478.5,202.6V171.2 M479.5,209.5V161.9 M480.5,203.5V156.6 M481.5,207.5V169.2 M482.5,200.9V149.1 M483.5,203.2V148.1 M484.5,197.3V161.7 M485.5,207.4V154.2 M486.5,202.2V151.6 M487.5,204.9V163.2 M488.5,202.6V159.2 M489.5,203.8V171.0 M490.5,200.8V157.0 M491.5,202.5V153.4 M492.5,196.2V157.5 M493.5,203.9V167.8 M494.5,200.3V151.6 M495.5,202.9V157.9 M496.5,203.9V155.9 M497.5,203.9V151.7 M498.5,200.0V160.1 M499.5,203.1V154.1 M500.5,202.3V156.5 M501.5,203.5V159.9 M502.5,199.2V160.4 M503.5,201.9V157.2 M504.5,201.8V159.6 M505.5,202.4V157.5 M506.5,202.6V160.4 M507.5,196.4V155.6 M508.5,202.7V158.7 M509.5,201.8V166.7 M510.5,201.6V161.0 M511.5,204.0V168.7 M512.5,205.6V165.3 M513.5,203.5V171.4 M514.5,205.2V167.7 M515.5,201.2V169.2 M516.5,204.2V169.6 M517.5,205.2V170.5 M518.5,206.2V171.8 M519.5,208.1V176.7 M520.5,202.4V177.6 M521.5,205.8V177.4 M522.5,203.3V176.5 M523.5,205.7V179.7 M524.5,206.1V178.7 M525.5,207.2V180.3 M526.5,205.2V180.4 M527.5,206.4V181.7 M528.5,207.2V186.7 M529.5,212.9V181.9 M530.5,208.3V184.9 M531.5,208.5V188.0 M532.5,207.9V187.7 M533.5,209.8V188.1 M534.5,209.6V189.1 M535.5,208.9V189.8 M536.5,209.6V189.0 M537.5,213.0V191.9 M538.5,211.0V194.5 M539.5,214.9V187.0 M540.5,211.3V196.9 M541.5,210.3V193.1 M542.5,209.8V193.9 M543.5,210.6V193.2 M544.5,213.0V191.7 M545.5,212.7V198.5 M546.5,213.6V192.6 M547.5,213.8V195.9 M548.5,215.9V196.2 M549.5,218.5V196.9 M550.5,216.7V198.1 M551.5,219.9V193.2 M552.5,220.5V197.6 M553.5,221.0V198.8 M554.5,219.1V199.4 M555.5,222.1V198.2 M556.5,222.6V197.5 M557.5,221.8V198.9 M558.5,222.1V199.9 M559.5,223.8V200.6 M560.5,226.1V202.4 M561.5,228.4V206.5 M562.5,228.5V202.0 M563.5,229.0V206.4 M564.5,230.9V204.8 M565.5,229.6V206.9 M566.5,232.1V209.7 M567.5,233.6V208.3 M568.5,238.8V211.6 M569.5,237.0V215.5 M570.5,237.7V212.7 M571.5,236.7V214.3 M572.5,238.5V214.1 M573.5,238.7V216.8 M574.5,241.7V216.7 M575.5,241.2V220.9 M576.5,240.1V216.7 M577.5,237.6V215.0 M578.5,237.1V214.4 M579.5,232.7V214.0 M580.5,233.1V213.0 M581.5,230.0V210.7 M582.5,229.6V214.2 M583.5,224.4V208.4 M584.5,225.2V208.6 M585.5,224.9V206.8 M586.5,223.4V206.9 M587.5,222.7V209.3 M588.5,218.7V204.9 M589.5,216.5V203.2 M590.5,220.7V206.5 M591.5,219.2V204.9 M592.5,218.6V203.9 M593.5,218.4V208.5 M594.5,219.2V206.4 M595.5,219.7V206.2 M596.5,217.3V207.3 M597.5,220.0V208.1 M598.5,220.5V208.3 M599.5,222.6V210.0 M600.5,223.9V212.8 M601.5,222.2V213.2 M602.5,221.7V212.3 M603.5,226.3V213.5 M604.5,224.5V215.4 M605.5,229.3V216.8 M606.5,232.0V219.0 M607.5,226.8V218.4 M608.5,232.6V220.9 M609.5,229.1V222.1 M610.5,236.0V224.4 M611.5,236.1V224.3 M612.5,238.5V225.0 M613.5,237.9V227.7 M614.5,241.3V228.1 M615.5,244.2V226.0 M616.5,245.8V230.0 M617.5,247.3V233.1 M618.5,248.9V234.8 M619.5,250.7V234.7 M620.5,249.9V236.3 M621.5,253.0V237.9 M622.5,253.8V237.9 M623.5,255.4V238.2 M624.5,256.6V241.2 M625.5,256.9V242.4 M626.5,257.0V244.1 M627.5,259.8V243.2 M628.5,261.3V246.0 M629.5,258.9V245.3 M630.5,260.9V244.2 M631.5,258.0V245.4 M632.5,261.6V243.7 M633.5,259.8V241.3 M634.5,260.7V239.4 M635.5,256.5V238.3 M636.5,259.4V236.8 M637.5,254.4V238.0 M638.5,257.4V236.6 M639.5,256.0V233.3 M640.5,258.8V232.6 M641.5,257.0V237.9 M642.5,256.1V236.2 M643.5,255.9V235.0 M644.5,255.4V238.1" stroke="#4444ee" stroke-width="1.4" fill="none" stroke-linejoin="round" />
<path d="M294.5,270.6V211.3 M295.5,263.2V230.4 M296.5,261.4V228.3 M297.5,264.2V235.8 M298.5,262.8V211.5 M299.5,255.0V198.7 M300.5,269.0V208.4 M301.5,259.0V232.3 M302.5,268.9V211.7 M303.5,273.1V202.3 M304.5,267.5V260.2 M305.5,268.2V208.6 M306.5,269.5V215.7 M307.5,267.8V259.1 M308.5,259.3V207.3 M309.5,269.7V217.6 M310.5,261.1V236.6 M311.5,266.0V230.6 M312.5,266.4V229.6 M313.5,261.9V229.9 M314.5,256.3V248.8 M315.5,267.0V232.2 M316.5,273.7V227.1 M317.5,259.9V229.7 M318.5,271.8V233.8 M319.5,269.6V200.8 M320.5,261.5V193.0 M321.5,272.1V209.1 M322.5,260.0V237.6 M323.5,272.6V228.8 M324.5,276.4V224.1 M325.5,271.1V228.1 M326.5,258.7V253.0 M327.5,270.7V229.5 M328.5,270.0V260.3 M329.5,268.3V225.1 M330.5,265.1V259.1 M331.5,272.7V227.4 M332.5,266.8V224.9 M333.5,263.6V228.5 M334.5,268.9V234.5 M335.5,270.3V223.7 M336.5,270.9V217.6 M337.5,263.5V224.9 M338.5,270.6V238.4 M339.5,275.9V229.0 M340.5,260.0V223.7 M341.5,266.3V232.4 M342.5,265.6V255.9 M343.5,262.6V213.1 M344.5,267.0V236.4 M345.5,269.1V217.3 M346.5,267.3V205.8 M347.5,262.1V208.8 M348.5,268.6V231.9 M349.5,266.4V221.5 M350.5,260.7V212.9 M351.5,273.0V222.7 M352.5,266.8V263.1 M353.5,261.0V232.0 M354.5,270.8V225.3 M355.5,269.4V263.6 M356.5,261.5V226.9 M357.5,270.7V226.8 M358.5,267.5V263.7 M359.5,257.6V212.6 M360.5,262.0V217.8 M361.5,266.3V259.8 M362.5,266.5V204.0 M363.5,267.7V215.2 M364.5,273.9V265.7 M365.5,278.3V208.9 M366.5,274.4V218.0 M367.5,255.7V249.6 M368.5,263.8V212.5 M369.5,263.0V215.0 M370.5,267.4V263.9 M371.5,265.2V220.3 M372.5,264.6V212.3 M373.5,270.3V216.0 M374.5,264.2V255.5 M375.5,254.6V224.1 M376.5,266.2V219.7 M377.5,268.9V224.8 M378.5,270.0V261.3 M379.5,251.7V217.9 M380.5,262.7V221.8 M381.5,269.2V236.6 M382.5,265.1V217.7 M383.5,253.1V211.2 M384.5,260.0V210.5 M385.5,260.9V231.4 M386.5,254.5V225.1 M387.5,243.9V225.8 M388.5,261.0V221.2 M389.5,258.7V223.9 M390.5,250.4V241.3 M391.5,252.3V219.8 M392.5,247.3V219.3 M393.5,241.8V219.8 M394.5,250.3V243.8 M395.5,252.0V218.0 M396.5,250.2V220.1 M397.5,242.1V219.1 M398.5,249.1V219.9 M399.5,248.8V217.3 M400.5,247.1V215.2 M401.5,242.6V219.4 M402.5,252.8V222.0 M403.5,247.7V207.9 M404.5,242.7V209.8 M405.5,247.3V220.0 M406.5,247.0V217.9 M407.5,245.4V216.5 M408.5,238.5V213.4 M409.5,242.6V214.4 M410.5,245.9V241.6 M411.5,246.8V206.9 M412.5,243.9V206.7 M413.5,247.2V206.8 M414.5,249.5V243.1 M415.5,251.6V212.7 M416.5,242.6V208.0 M417.5,251.7V212.1 M418.5,244.9V214.0 M419.5,243.6V240.2 M420.5,246.9V213.6 M421.5,235.7V209.8 M422.5,248.6V210.0 M423.5,246.6V241.4 M424.5,244.9V204.0 M425.5,242.7V198.6 M426.5,245.4V203.2 M427.5,246.2V243.1 M428.5,249.8V206.7 M429.5,240.2V203.4 M430.5,247.9V206.8 M431.5,248.4V212.9 M432.5,241.3V200.7 M433.5,243.9V206.0 M434.5,244.0V221.1 M435.5,240.0V198.0 M436.5,247.5V200.4 M437.5,248.6V208.0 M438.5,244.8V202.4 M439.5,239.6V217.9 M440.5,249.7V206.5 M441.5,240.0V199.5 M442.5,245.5V204.8 M443.5,250.2V199.2 M444.5,240.2V201.9 M445.5,246.2V207.1 M446.5,249.5V206.9 M447.5,233.4V200.3 M448.5,241.5V217.7 M449.5,242.8V207.7 M450.5,242.2V203.8 M451.5,249.9V214.3 M452.5,240.5V203.0 M453.5,241.2V198.1 M454.5,233.6V203.7 M455.5,249.2V212.8 M456.5,247.5V201.1 M457.5,243.4V195.6 M458.5,233.3V206.5 M459.5,241.8V196.4 M460.5,244.1V192.4 M461.5,235.3V192.3 M462.5,241.8V198.7 M463.5,241.1V197.6 M464.5,238.1V203.1 M465.5,235.6V194.5 M466.5,242.9V192.2 M467.5,246.2V195.5 M468.5,240.7V205.4 M469.5,233.3V194.8 M470.5,238.0V193.5 M471.5,239.5V195.6 M472.5,233.8V204.2 M473.5,238.4V196.0 M474.5,234.3V190.9 M475.5,227.2V206.8 M476.5,235.7V196.9 M477.5,233.7V191.0 M478.5,228.6V197.0 M479.5,234.1V207.2 M480.5,224.6V201.8 M481.5,233.2V199.0 M482.5,228.9V209.4 M483.5,228.4V201.7 M484.5,229.0V203.6 M485.5,234.4V196.2 M486.5,233.3V201.8 M487.5,231.8V196.7 M488.5,225.4V197.5 M489.5,228.3V199.9 M490.5,223.2V199.9 M491.5,226.6V202.6 M492.5,227.9V197.8 M493.5,220.2V203.6 M494.5,230.8V203.5 M495.5,220.2V197.9 M496.5,227.4V201.4 M497.5,226.3V198.5 M498.5,225.3V203.9 M499.5,226.8V207.1 M500.5,225.9V199.9 M501.5,225.9V201.0 M502.5,229.1V199.9 M503.5,230.9V202.0 M504.5,224.6V202.2 M505.5,227.0V204.0 M506.5,229.9V203.7 M507.5,226.7V205.1 M508.5,227.6V207.1 M509.5,233.1V211.9 M510.5,231.4V204.7 M511.5,234.9V208.4 M512.5,236.5V207.2 M513.5,235.3V203.3 M514.5,234.5V206.8 M515.5,231.3V208.5 M516.5,236.8V208.7 M517.5,235.5V208.9 M518.5,235.9V209.8 M519.5,236.1V213.9 M520.5,238.8V211.1 M521.5,243.3V212.3 M522.5,238.8V212.3 M523.5,237.6V216.4 M524.5,240.3V216.0 M525.5,239.3V220.4 M526.5,237.1V215.7 M527.5,241.1V217.3 M528.5,237.8V216.8 M529.5,239.9V218.3 M530.5,242.1V218.7 M531.5,242.8V220.7 M532.5,240.0V219.9 M533.5,241.0V219.8 M534.5,239.1V220.3 M535.5,241.4V224.5 M536.5,244.6V218.2 M537.5,242.4V220.8 M538.5,239.2V221.9 M539.5,245.1V219.0 M540.5,244.4V222.6 M541.5,243.7V224.8 M542.5,247.8V223.7 M543.5,251.6V226.6 M544.5,245.0V228.7 M545.5,247.6V225.3 M546.5,247.5V227.0 M547.5,249.6V227.0 M548.5,251.4V228.1 M549.5,250.5V233.9 M550.5,251.0V230.0 M551.5,249.8V229.0 M552.5,252.3V231.5 M553.5,253.7V229.8 M554.5,252.4V233.3 M555.5,251.8V230.8 M556.5,251.4V234.7 M557.5,258.4V236.5 M558.5,256.0V234.4 M559.5,255.6V239.8 M560.5,257.1V239.0 M561.5,257.7V238.9 M562.5,258.7V239.5 M563.5,254.3V243.4 M564.5,261.3V242.8 M565.5,263.3V239.6 M566.5,258.7V241.4 M567.5,261.6V249.9 M568.5,264.5V250.6 M569.5,264.9V251.5 M570.5,264.0V253.9 M571.5,266.8V255.3 M572.5,266.1V256.8 M573.5,269.2V259.9 M574.5,269.1V259.7 M575.5,268.7V260.2 M576.5,268.1V252.3 M577.5,266.7V254.5 M578.5,264.6V252.7 M579.5,263.5V254.3 M580.5,262.0V251.0 M581.5,259.9V248.7 M582.5,258.9V246.9 M583.5,258.0V245.8 M584.5,257.2V248.3 M585.5,254.0V243.5 M586.5,256.0V242.3 M587.5,253.7V242.0 M588.5,252.8V241.4 M589.5,252.1V238.1 M590.5,251.9V243.0 M591.5,252.2V233.8 M592.5,251.1V239.1 M593.5,251.8V239.5 M594.5,249.9V237.6 M595.5,251.7V240.1 M596.5,252.3V242.5 M597.5,252.3V240.2 M598.5,249.5V240.9 M599.5,250.2V240.1 M600.5,252.5V240.4 M601.5,253.4V240.5 M602.5,252.5V243.7 M603.5,253.7V245.1 M604.5,255.2V242.8 M605.5,256.6V244.6 M606.5,254.0V246.5 M607.5,258.8V247.8 M608.5,262.2V243.6 M609.5,262.4V250.6 M610.5,264.4V253.4 M611.5,264.3V253.6 M612.5,266.8V257.9 M613.5,269.6V251.6 M614.5,272.1V255.5 M615.5,273.4V261.9 M616.5,274.4V262.3 M617.5,277.0V263.9 M618.5,277.7V264.7 M619.5,280.1V270.8 M620.5,282.5V273.4 M621.5,282.2V273.8 M622.5,283.4V273.9 M623.5,285.2V274.2 M624.5,285.5V276.4 M625.5,285.8V276.5 M626.5,285.2V277.8 M627.5,291.2V279.4 M628.5,290.3V279.3 M629.5,288.8V277.9 M630.5,290.8V271.8 M631.5,290.8V271.5 M632.5,288.8V265.9 M633.5,288.8V268.2 M634.5,291.1V264.3 M635.5,292.1V260.9 M636.5,289.3V260.0 M637.5,289.7V258.1 M638.5,288.6V260.8 M639.5,288.5V257.8 M640.5,288.5V259.8 M641.5,284.5V257.9 M642.5,288.4V258.7 M643.5,280.9V263.2 M644.5,286.0V259.3" stroke="#44f444" stroke-width="1.15" fill="none" stroke-linejoin="round" />
<path d="M83,88.6 L210.6,124.6 H644.6" stroke="#f04038" stroke-width="2.25" fill="none"/>
<path d="M83,124.1 L210.6,160.1 H644.6" stroke="#e662e6" stroke-width="1.65" fill="none"/>
<path d="M83,30 V468.5 M80,445.0 H88.5 M80,427.0 H88.5 M80,409.0 H88.5 M80,391.0 H88.5 M80,373.0 H88.5 M80,355.0 H88.5 M80,337.0 H88.5 M80,319.0 H88.5 M80,301.0 H88.5 M80,283.0 H88.5 M80,265.0 H88.5 M80,247.0 H88.5 M80,229.0 H88.5 M80,211.0 H88.5 M80,193.0 H88.5 M80,175.0 H88.5 M80,157.0 H88.5 M80,139.0 H88.5 M80,121.0 H88.5 M80,103.0 H88.5 M80,85.0 H88.5 M80,67.0 H88.5 M80,49.0 H88.5 M80,31.0 H88.5" stroke="#000" stroke-width="1.9" fill="none"/>
<path d="M82.2,463.5 H645.4 M113.5,460 V468.5 M156.5,460 V468.5 M187.0,460 V468.5 M210.6,460 V468.5 M229.9,460 V468.5 M246.3,460 V468.5 M260.4,460 V468.5 M284.1,460 V468.5 M357.6,460 V468.5 M400.5,460 V468.5 M431.0,460 V468.5 M454.7,460 V468.5 M474.0,460 V468.5 M490.3,460 V468.5 M504.5,460 V468.5 M528.2,460 V468.5 M601.6,460 V468.5 M644.6,460 V468.5" stroke="#000" stroke-width="1.6" fill="none"/>
<path d="M125,68 H138.2 L131.6,81 Z" fill="#000"/>
</svg>
<div class="yl" style="top:423.0px">-10</div>
<div class="yl" style="top:387.0px">0</div>
<div class="yl" style="top:351.0px">10</div>
<div class="yl" style="top:315.0px">20</div>
<div class="yl" style="top:279.0px">30</div>
<div class="yl" style="top:243.0px">40</div>
<div class="yl" style="top:207.0px">50</div>
<div class="yl" style="top:171.0px">60</div>
<div class="yl" style="top:135.0px">70</div>
<div class="yl" style="top:99.0px">80</div>
<div class="yl" style="top:63.0px">90</div>
<div class="yl" style="top:27.0px">100</div>
<div class="xl" style="left:83.0px">150k</div>
<div class="xl" style="left:156.5px">300</div>
<div class="xl" style="left:187.0px">400</div>
<div class="xl" style="left:210.6px">500</div>
<div class="xl" style="left:260.4px">800</div>
<div class="xl" style="left:284.1px">1M</div>
<div class="xl" style="left:357.6px">2M</div>
<div class="xl" style="left:400.5px">3M</div>
<div class="xl" style="left:431.0px">4M</div>
<div class="xl" style="left:454.7px">5M</div>
<div class="xl" style="left:474.0px">6</div>
<div class="xl" style="left:504.5px">8</div>
<div class="xl" style="left:528.2px">10M</div>
<div class="xl" style="left:601.6px">20M</div>
<div class="xl" style="left:644.6px">30M</div>
<div class="t" style="left:317.5px;top:495px">Frequency in Hz</div>
<div class="t" style="left:33.6px;top:287.5px;font-size:13px;letter-spacing:0.36px;transform-origin:0 0;transform:rotate(-90deg)">Level in dBµ</div>
<div class="m" style="left:413.4px;top:110.9px;color:#e2513f"><span class="c"><i style="transform:scaleX(0.82)">E</i></span><span class="c"><i style="transform:scaleX(0.69)">N</i></span><span class="c">5</span><span class="c">5</span><span class="c">0</span><span class="c">3</span><span class="c">2</span><span class="c"> </span><span class="c"><i style="transform:scaleX(0.75)">C</i></span><span class="c">l</span><span class="c">a</span><span class="c">s</span><span class="c">s</span><span class="c"> </span><span class="c"><i style="transform:scaleX(0.75)">B</i></span><span class="c"> </span><span class="c"><i style="transform:scaleX(0.82)">T</i></span><span class="c">e</span><span class="c">l</span><span class="c">e</span><span class="c">c</span><span class="c">o</span><span class="c"><i style="transform:scaleX(0.64)">m</i></span><span class="c"> </span><span class="c">o</span><span class="c">n</span><span class="c"> </span><span class="c"><i style="transform:scaleX(0.56)">M</i></span><span class="c">a</span><span class="c">i</span><span class="c">n</span><span class="c">s</span><span class="c"> </span><span class="c"><i style="transform:scaleX(0.69)">Q</i></span><span class="c"><i style="transform:scaleX(0.90)">P</i></span></div>
<div class="m" style="left:413.8px;top:146px;color:#e25fe2"><span class="c"><i style="transform:scaleX(0.82)">E</i></span><span class="c"><i style="transform:scaleX(0.69)">N</i></span><span class="c">5</span><span class="c">5</span><span class="c">0</span><span class="c">3</span><span class="c">2</span><span class="c"> </span><span class="c"><i style="transform:scaleX(0.75)">C</i></span><span class="c">l</span><span class="c">a</span><span class="c">s</span><span class="c">s</span><span class="c"> </span><span class="c"><i style="transform:scaleX(0.75)">B</i></span><span class="c"> </span><span class="c"><i style="transform:scaleX(0.82)">T</i></span><span class="c">e</span><span class="c">l</span><span class="c">e</span><span class="c">c</span><span class="c">o</span><span class="c"><i style="transform:scaleX(0.64)">m</i></span><span class="c"> </span><span class="c">o</span><span class="c">n</span><span class="c"> </span><span class="c"><i style="transform:scaleX(0.56)">M</i></span><span class="c">a</span><span class="c">i</span><span class="c">n</span><span class="c">s</span><span class="c"> </span><span class="c"><i style="transform:scaleX(0.69)">A</i></span><span class="c"><i style="transform:scaleX(0.69)">V</i></span></div>
<div class="m" style="left:288.5px;top:311.2px;color:#444"><span class="c">2</span><span class="c">3</span><span class="c">5</span><span class="c" style="text-align:left;padding-left:1px;box-sizing:border-box">.</span><span class="c">5</span><span class="c">0</span><span class="c">0</span><span class="c"> </span><span class="c">k</span><span class="c"><i style="transform:scaleX(0.69)">H</i></span><span class="c">z</span></div>
<div class="m" style="left:287.5px;top:327.2px;color:#444"><span class="c">8</span><span class="c">6</span><span class="c" style="text-align:left;padding-left:1px;box-sizing:border-box">.</span><span class="c">6</span><span class="c">4</span><span class="c">9</span><span class="c"> </span><span class="c">d</span><span class="c"><i style="transform:scaleX(0.75)">B</i></span><span class="c" style="width:14px">μ</span></div>
<div class="m" style="left:288.5px;top:391.9px;color:#444"><span class="c">2</span><span class="c">3</span><span class="c">5</span><span class="c" style="text-align:left;padding-left:1px;box-sizing:border-box">.</span><span class="c">5</span><span class="c">0</span><span class="c">0</span><span class="c"> </span><span class="c">k</span><span class="c"><i style="transform:scaleX(0.69)">H</i></span><span class="c">z</span></div>
<div class="m" style="left:287.5px;top:407.9px;color:#444"><span class="c">8</span><span class="c">6</span><span class="c" style="text-align:left;padding-left:1px;box-sizing:border-box">.</span><span class="c">5</span><span class="c">8</span><span class="c">2</span><span class="c"> </span><span class="c">d</span><span class="c"><i style="transform:scaleX(0.75)">B</i></span><span class="c" style="width:14px">μ</span></div>
</div></body></html>
